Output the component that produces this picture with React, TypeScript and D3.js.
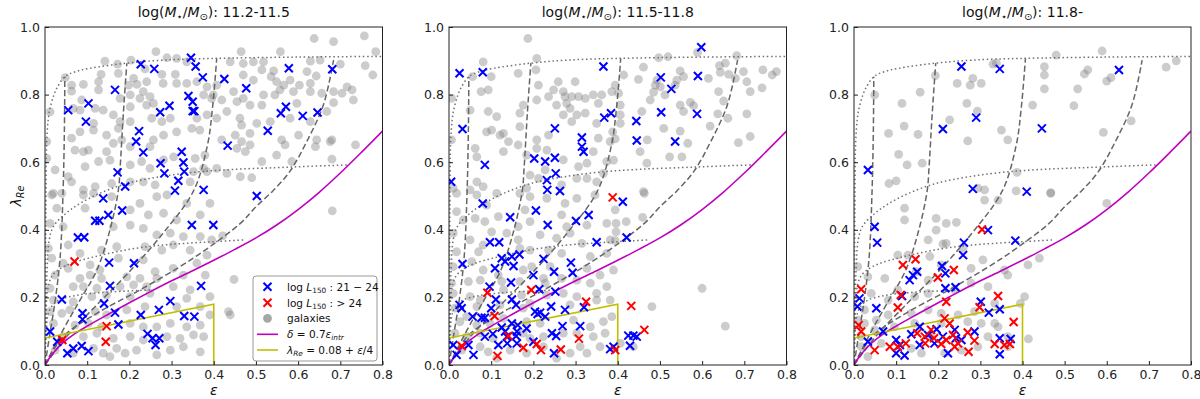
import React, { useRef, useEffect } from "react";
import * as d3 from "d3";

type Pt = [number, number];

const massBins = ["11.2-11.5", "11.5-11.8", "11.8-"];
const xTicks = [0, 0.1, 0.2, 0.3, 0.4, 0.5, 0.6, 0.7, 0.8];
const yTicks = [0, 0.2, 0.4, 0.6, 0.8, 1.0];

// grey galaxies, panel 1
const galaxies1: Pt[] = [
  [0.263,0.927],[0.289,0.909],[0.142,0.899],[0.172,0.89],[0.204,0.902],[0.312,0.907],[0.336,0.897],[0.237,0.876],[0.277,0.86],[0.309,0.86],
  [0.133,0.86],[0.174,0.863],[0.21,0.848],[0.048,0.85],[0.063,0.828],[0.091,0.83],[0.127,0.838],[0.063,0.81],[0.127,0.814],[0.198,0.828],
  [0.218,0.83],[0.241,0.838],[0.28,0.833],[0.312,0.833],[0.336,0.833],[0.36,0.838],[0.384,0.823],[0.376,0.799],[0.395,0.789],[0.233,0.809],
  [0.225,0.789],[0.249,0.794],[0.202,0.799],[0.178,0.789],[0.241,0.769],[0.257,0.774],[0.202,0.764],[0.162,0.74],[0.178,0.72],[0.202,0.72],
  [0.174,0.7],[0.138,0.754],[0.119,0.759],[0.083,0.754],[0.087,0.784],[0.067,0.759],[0.115,0.715],[0.115,0.695],[0.083,0.69],[0.063,0.671],
  [0.012,0.749],[0.004,0.661],[0.253,0.73],[0.277,0.72],[0.297,0.73],[0.36,0.73],[0.384,0.74],[0.348,0.7],[0.367,0.695],[0.312,0.69],
  [0.281,0.68],[0.257,0.666],[0.249,0.646],[0.202,0.646],[0.182,0.666],[0.162,0.656],[0.146,0.68],[0.146,0.631],[0.091,0.631],[0.071,0.636],
  [0.103,0.636],[0.154,0.606],[0.127,0.602],[0.095,0.587],[0.055,0.557],[0.063,0.542],[0.024,0.577],[0.004,0.611],[0.202,0.592],[0.229,0.602],
  [0.249,0.582],[0.281,0.607],[0.305,0.616],[0.356,0.611],[0.379,0.621],[0.352,0.572],[0.384,0.572],[0.344,0.542],[0.261,0.533],[0.233,0.542],
  [0.202,0.542],[0.158,0.537],[0.119,0.528],[0.091,0.518],[0.02,0.508],[0.376,0.582],
  [0.638,0.966],[0.684,0.957],[0.757,0.974],[0.465,0.927],[0.784,0.927],[0.558,0.927],[0.652,0.902],[0.629,0.899],[0.7,0.89],[0.759,0.886],
  [0.777,0.858],[0.439,0.897],[0.47,0.892],[0.494,0.897],[0.518,0.897],[0.514,0.873],[0.542,0.87],[0.536,0.853],[0.581,0.843],[0.629,0.833],
  [0.643,0.855],[0.621,0.868],[0.603,0.828],[0.589,0.809],[0.566,0.828],[0.549,0.838],[0.494,0.843],[0.47,0.858],[0.447,0.809],[0.407,0.828],
  [0.399,0.799],[0.455,0.779],[0.486,0.769],[0.514,0.769],[0.47,0.789],[0.518,0.799],[0.545,0.799],[0.557,0.814],[0.629,0.809],[0.656,0.804],
  [0.684,0.809],[0.716,0.823],[0.728,0.814],[0.704,0.804],[0.731,0.784],[0.684,0.776],[0.597,0.774],[0.581,0.73],[0.629,0.72],[0.668,0.75],
  [0.431,0.75],[0.419,0.784],[0.407,0.73],[0.462,0.73],[0.466,0.71],[0.502,0.715],[0.534,0.72],[0.486,0.685],[0.451,0.68],[0.419,0.666],
  [0.466,0.661],[0.455,0.641],[0.475,0.631],[0.486,0.651],[0.561,0.666],[0.569,0.651],[0.601,0.68],[0.644,0.666],[0.676,0.661],[0.641,0.646],
  [0.68,0.666],[0.736,0.651],[0.549,0.621],[0.514,0.602],[0.585,0.602],[0.68,0.609],[0.463,0.557],[0.49,0.554],[0.431,0.567],[0.407,0.582],
  [0.681,0.456],[0.421,0.382],[0.448,0.253],[0.435,0.158],[0.439,0.148],
  [0.016,0.503],[0.04,0.508],[0.091,0.503],[0.115,0.508],[0.158,0.498],[0.225,0.478],[0.265,0.498],[0.289,0.503],[0.336,0.478],[0.391,0.478],
  [0.028,0.464],[0.095,0.464],[0.202,0.459],[0.245,0.444],[0.281,0.449],[0.312,0.429],[0.368,0.444],[0.012,0.419],[0.043,0.409],[0.162,0.409],
  [0.202,0.414],[0.233,0.404],[0.265,0.385],[0.297,0.39],[0.328,0.38],[0.368,0.38],[0.395,0.37],[0.008,0.345],[0.055,0.355],[0.083,0.33],
  [0.134,0.34],[0.17,0.35],[0.237,0.35],[0.277,0.34],[0.304,0.355],[0.344,0.34],[0.384,0.325],[0.016,0.316],[0.043,0.301],[0.055,0.286],
  [0.107,0.296],[0.13,0.281],[0.174,0.316],[0.233,0.311],[0.261,0.276],[0.304,0.286],[0.36,0.301],[0.024,0.266],[0.083,0.256],[0.107,0.266],
  [0.134,0.256],[0.194,0.261],[0.225,0.256],[0.265,0.256],[0.328,0.266],[0.38,0.266],[0.012,0.227],[0.067,0.232],[0.091,0.232],[0.123,0.227],
  [0.178,0.232],[0.21,0.237],[0.241,0.232],[0.304,0.232],[0.344,0.222],[0.02,0.192],[0.067,0.187],[0.111,0.202],[0.146,0.207],[0.202,0.202],
  [0.249,0.212],[0.336,0.197],[0.391,0.202],[0.012,0.158],[0.04,0.153],[0.059,0.163],[0.119,0.158],[0.146,0.148],[0.194,0.163],[0.237,0.173],
  [0.312,0.173],[0.368,0.173],[0.391,0.148],[0.02,0.123],[0.071,0.118],[0.103,0.123],[0.134,0.113],[0.202,0.123],[0.233,0.113],[0.265,0.113],
  [0.297,0.123],[0.336,0.113],[0.368,0.118],[0.043,0.084],[0.091,0.084],[0.123,0.094],[0.162,0.079],[0.202,0.084],[0.233,0.074],[0.289,0.084],
  [0.32,0.079],[0.352,0.089],[0.376,0.084],[0.024,0.044],[0.067,0.035],[0.115,0.049],[0.138,0.035],[0.17,0.049],[0.19,0.035],[0.217,0.044],
  [0.265,0.03],[0.297,0.044],[0.328,0.054],[0.368,0.039],[0.154,0.025],
];

// log L150 21-24 (blue), panel 1
const radioLow1: Pt[] = [
  [0.055,0.754],[0.103,0.774],[0.097,0.72],[0.166,0.814],[0.227,0.89],[0.259,0.876],[0.346,0.909],[0.357,0.883],[0.374,0.851],[0.34,0.796],
  [0.35,0.779],[0.35,0.751],[0.354,0.751],[0.295,0.767],[0.273,0.748],[0.223,0.692],[0.216,0.661],[0.233,0.629],[0.172,0.57],[0.19,0.528],
  [0.274,0.597],[0.283,0.567],[0.324,0.631],[0.328,0.599],[0.33,0.572],[0.316,0.545],[0.308,0.516],[0.376,0.518],
  [0.425,0.846],[0.477,0.819],[0.578,0.878],[0.681,0.875],[0.571,0.764],[0.559,0.745],[0.611,0.737],[0.646,0.747],[0.528,0.693],[0.433,0.649],
  [0.502,0.5],
  [0.138,0.493],[0.183,0.457],[0.15,0.444],[0.119,0.427],[0.129,0.427],[0.348,0.414],[0.399,0.414],[0.078,0.377],[0.093,0.378],[0.152,0.303],
  [0.211,0.301],[0.154,0.234],[0.04,0.194],[0.14,0.182],[0.37,0.234],[0.297,0.189],[0.089,0.153],[0.089,0.135],[0.166,0.155],[0.227,0.148],
  [0.27,0.163],[0.33,0.145],[0.354,0.143],[0.174,0.12],[0.012,0.099],[0.029,0.069],[0.053,0.035],[0.067,0.049],[0.087,0.056],[0.103,0.041],
  [0.243,0.092],[0.255,0.079],[0.271,0.079],[0.262,0.059],
];

// log L150 > 24 (red), panel 1
const radioHigh1: Pt[] = [[0.07,0.306],[0.146,0.115],[0.144,0.069],[0.041,0.074]];

const galaxies2: Pt[] = [
  [0.187,0.966],[0.081,0.897],[0.208,0.907],[0.056,0.853],[0.1,0.853],[0.164,0.863],[0.206,0.873],[0.076,0.809],[0.093,0.814],[0.212,0.828],
  [0.259,0.838],[0.006,0.789],[0.236,0.794],[0.208,0.784],[0.248,0.814],[0.271,0.809],[0.299,0.838],[0.275,0.794],[0.291,0.794],[0.307,0.794],
  [0.323,0.789],[0.342,0.799],[0.362,0.799],[0.386,0.809],[0.176,0.769],[0.255,0.769],[0.279,0.774],[0.287,0.759],[0.271,0.74],[0.303,0.74],
  [0.323,0.745],[0.354,0.774],[0.05,0.754],[0.093,0.75],[0.113,0.735],[0.168,0.745],[0.291,0.72],[0.35,0.715],[0.089,0.69],[0.101,0.695],
  [0.121,0.68],[0.129,0.685],[0.141,0.661],[0.164,0.651],[0.168,0.705],[0.208,0.666],[0.236,0.68],[0.208,0.641],[0.062,0.641],[0.129,0.631],
  [0.066,0.616],[0.184,0.621],[0.232,0.636],[0.271,0.607],[0.307,0.587],[0.327,0.597],[0.342,0.631],[0.354,0.671],[0.382,0.661],[0.388,0.69],
  [0.006,0.666],[0.374,0.602],[0.192,0.562],[0.212,0.552],[0.228,0.577],[0.267,0.533],[0.303,0.552],[0.327,0.552],[0.35,0.542],[0.366,0.567],
  [0.066,0.542],[0.05,0.518],[0.081,0.528],[0.184,0.523],[0.01,0.523],
  [0.497,0.909],[0.519,0.912],[0.589,0.925],[0.682,0.915],[0.461,0.881],[0.641,0.886],[0.655,0.893],[0.643,0.866],[0.663,0.86],[0.679,0.848],
  [0.698,0.868],[0.744,0.873],[0.766,0.858],[0.776,0.868],[0.706,0.838],[0.742,0.82],[0.714,0.809],[0.615,0.848],[0.548,0.87],[0.556,0.853],
  [0.54,0.843],[0.536,0.828],[0.493,0.843],[0.449,0.845],[0.489,0.828],[0.501,0.823],[0.512,0.799],[0.485,0.807],[0.414,0.858],[0.394,0.828],
  [0.402,0.804],[0.406,0.769],[0.406,0.715],[0.477,0.784],[0.548,0.769],[0.572,0.777],[0.58,0.767],[0.556,0.75],[0.639,0.809],[0.651,0.781],
  [0.637,0.743],[0.661,0.73],[0.619,0.707],[0.706,0.743],[0.457,0.75],[0.406,0.74],[0.509,0.7],[0.548,0.692],[0.47,0.666],[0.453,0.631],
  [0.469,0.597],[0.523,0.616],[0.552,0.616],[0.566,0.656],[0.686,0.658],[0.714,0.676],[0.394,0.669],[0.461,0.513],[0.39,0.606],
  [0.018,0.508],[0.066,0.503],[0.113,0.508],[0.089,0.473],[0.168,0.508],[0.192,0.498],[0.232,0.493],[0.275,0.478],[0.303,0.493],[0.346,0.503],
  [0.018,0.454],[0.034,0.429],[0.062,0.434],[0.085,0.424],[0.117,0.439],[0.18,0.459],[0.192,0.424],[0.164,0.409],[0.267,0.444],[0.279,0.409],
  [0.327,0.414],[0.374,0.419],[0.01,0.39],[0.05,0.37],[0.101,0.394],[0.137,0.39],[0.164,0.37],[0.216,0.385],[0.255,0.375],[0.287,0.39],
  [0.315,0.36],[0.382,0.37],[0.018,0.335],[0.07,0.335],[0.081,0.355],[0.168,0.345],[0.192,0.34],[0.236,0.34],[0.267,0.33],[0.335,0.321],
  [0.374,0.33],[0.01,0.291],[0.054,0.306],[0.081,0.281],[0.117,0.266],[0.176,0.281],[0.196,0.291],[0.24,0.291],[0.267,0.256],[0.327,0.286],
  [0.358,0.266],[0.39,0.281],[0.006,0.242],[0.046,0.247],[0.074,0.251],[0.125,0.247],[0.168,0.247],[0.224,0.256],[0.228,0.242],[0.303,0.251],
  [0.335,0.242],[0.374,0.232],[0.01,0.212],[0.05,0.202],[0.074,0.192],[0.129,0.222],[0.172,0.207],[0.232,0.207],[0.271,0.212],[0.303,0.202],
  [0.35,0.212],[0.382,0.192],[0.014,0.168],[0.066,0.173],[0.121,0.178],[0.176,0.168],[0.192,0.182],[0.287,0.178],[0.35,0.192],[0.026,0.128],
  [0.042,0.143],[0.066,0.118],[0.097,0.123],[0.129,0.138],[0.184,0.128],[0.216,0.123],[0.295,0.133],[0.335,0.113],[0.366,0.128],[0.014,0.094],
  [0.042,0.084],[0.074,0.094],[0.105,0.079],[0.176,0.094],[0.192,0.079],[0.224,0.084],[0.271,0.094],[0.303,0.094],[0.342,0.084],[0.37,0.094],
  [0.03,0.044],[0.074,0.054],[0.093,0.039],[0.145,0.044],[0.184,0.035],[0.224,0.054],[0.287,0.035],[0.311,0.054],[0.327,0.035],[0.358,0.054],
  [0.113,0.02],[0.255,0.02],
  [0.463,0.508],[0.394,0.459],[0.42,0.424],[0.459,0.437],[0.396,0.419],[0.396,0.394],[0.394,0.368],[0.6,0.227],[0.481,0.173],[0.655,0.115],
  [0.386,0.143],[0.406,0.064],[0.437,0.054],
];

const radioLow2: Pt[] = [
  [0.025,0.863],[0.08,0.866],[0.032,0.698],[0.085,0.592],[0.005,0.542],[0.251,0.7],[0.315,0.673],[0.315,0.646],[0.319,0.631],[0.366,0.883],
  [0.368,0.732],[0.384,0.745],[0.202,0.611],[0.228,0.602],[0.251,0.613],[0.253,0.567],[0.232,0.547],[0.233,0.518],[0.263,0.515],
  [0.598,0.94],[0.502,0.851],[0.59,0.855],[0.527,0.817],[0.444,0.722],[0.503,0.748],[0.588,0.743],[0.445,0.664],[0.536,0.661],
  [0.08,0.478],[0.206,0.457],[0.145,0.437],[0.234,0.414],[0.301,0.426],[0.331,0.444],[0.097,0.363],[0.119,0.363],[0.35,0.363],[0.032,0.299],
  [0.125,0.316],[0.109,0.286],[0.133,0.306],[0.149,0.321],[0.167,0.327],[0.153,0.293],[0.224,0.314],[0.289,0.303],[0.293,0.273],[0.249,0.276],
  [0.2,0.266],[0.147,0.244],[0.096,0.232],[0.214,0.224],[0.252,0.217],[0.149,0.194],[0.025,0.178],[0.03,0.168],[0.111,0.194],[0.159,0.178],
  [0.242,0.173],[0.275,0.163],[0.32,0.171],[0.056,0.143],[0.077,0.14],[0.085,0.14],[0.1,0.168],[0.204,0.158],[0.21,0.151],[0.216,0.155],
  [0.228,0.143],[0.149,0.123],[0.163,0.118],[0.184,0.108],[0.161,0.099],[0.125,0.111],[0.133,0.099],[0.085,0.084],[0.104,0.092],[0.137,0.084],
  [0.159,0.086],[0.117,0.059],[0.138,0.064],[0.161,0.064],[0.2,0.069],[0.244,0.094],[0.254,0.086],[0.269,0.115],[0.311,0.115],[0.249,0.035],
  [0.046,0.059],[0.01,0.059],[0.018,0.03],[0.058,0.03],[0.382,0.047],
  [0.412,0.483],[0.421,0.377],[0.425,0.087],[0.437,0.087],[0.445,0.084],[0.429,0.057],[0.39,0.054],
];

const radioHigh2: Pt[] = [
  [0.091,0.214],[0.195,0.222],[0.108,0.145],[0.325,0.187],[0.141,0.086],[0.03,0.056],[0.176,0.051],[0.208,0.062],[0.218,0.044],[0.265,0.046],
  [0.308,0.078],[0.115,0.027],[0.388,0.496],[0.432,0.175],[0.463,0.104],[0.394,0.044],
];

const galaxies3: Pt[] = [
  [0.049,0.799],[0.083,0.537],[0.1,0.545],[0.082,0.685],[0.119,0.707],[0.114,0.774],[0.157,0.807],[0.152,0.682],[0.106,0.623],[0.126,0.592],
  [0.162,0.597],[0.193,0.856],[0.227,0.725],[0.245,0.833],[0.276,0.828],[0.282,0.848],[0.302,0.833],[0.268,0.774],[0.293,0.751],[0.27,0.663],
  [0.33,0.89],[0.338,0.893],[0.35,0.695],[0.365,0.666],[0.294,0.523],
  [0.48,0.917],[0.589,0.929],[0.452,0.883],[0.452,0.858],[0.452,0.817],[0.555,0.873],[0.547,0.861],[0.61,0.85],[0.6,0.84],[0.531,0.817],
  [0.424,0.769],[0.522,0.767],[0.741,0.881],[0.765,0.9],[0.658,0.722],[0.592,0.688],[0.387,0.57],[0.385,0.515],[0.467,0.51],
  [0.12,0.464],[0.12,0.429],[0.195,0.434],[0.219,0.419],[0.243,0.422],[0.195,0.399],[0.211,0.358],[0.176,0.37],[0.31,0.488],[0.31,0.518],
  [0.342,0.488],[0.009,0.291],[0.033,0.261],[0.041,0.212],[0.073,0.256],[0.104,0.325],[0.128,0.325],[0.18,0.321],[0.219,0.36],[0.148,0.276],
  [0.176,0.251],[0.207,0.296],[0.259,0.345],[0.278,0.286],[0.306,0.311],[0.357,0.281],[0.318,0.232],[0.278,0.242],[0.239,0.222],[0.176,0.212],
  [0.144,0.202],[0.104,0.222],[0.081,0.192],[0.025,0.163],[0.009,0.133],[0.025,0.123],[0.053,0.133],[0.081,0.148],[0.136,0.153],[0.176,0.163],
  [0.207,0.153],[0.247,0.148],[0.286,0.158],[0.334,0.182],[0.27,0.128],[0.207,0.123],[0.144,0.123],[0.096,0.113],[0.049,0.104],[0.017,0.084],
  [0.017,0.054],[0.033,0.025],[0.065,0.064],[0.136,0.049],[0.16,0.035],[0.183,0.084],[0.215,0.035],[0.255,0.044],[0.294,0.054],[0.318,0.084],
  [0.342,0.113],[0.365,0.084],[0.302,0.123],[0.334,0.123],
  [0.467,0.508],[0.6,0.478],[0.44,0.316],[0.413,0.296],[0.365,0.266],[0.405,0.202],[0.395,0.182],[0.414,0.077],[0.365,0.054],
];

const radioLow3: Pt[] = [
  [0.255,0.883],[0.346,0.876],[0.29,0.732],[0.211,0.698],[0.033,0.577],[0.282,0.521],[0.629,0.873],[0.446,0.7],[0.41,0.513],
  [0.049,0.409],[0.055,0.362],[0.318,0.399],[0.259,0.325],[0.261,0.362],[0.383,0.368],[0.209,0.293],[0.217,0.271],[0.15,0.276],[0.132,0.251],
  [0.14,0.266],[0.217,0.227],[0.241,0.23],[0.114,0.204],[0.013,0.197],[0.008,0.173],[0.053,0.168],[0.301,0.187],[0.32,0.155],[0.346,0.165],
  [0.069,0.099],[0.033,0.069],[0.1,0.074],[0.1,0.035],[0.12,0.028],[0.109,0.059],[0.136,0.091],[0.156,0.113],[0.156,0.059],[0.176,0.089],
  [0.196,0.106],[0.191,0.064],[0.211,0.084],[0.223,0.035],[0.239,0.104],[0.242,0.079],[0.255,0.074],[0.286,0.099],[0.346,0.079],[0.346,0.032],
  [0.372,0.077],
];

const radioHigh3: Pt[] = [
  [0.017,0.224],[0.011,0.118],[0.017,0.099],[0.049,0.044],[0.116,0.296],[0.111,0.207],[0.104,0.17],[0.146,0.313],[0.199,0.259],[0.237,0.281],
  [0.304,0.401],[0.219,0.187],[0.215,0.138],[0.227,0.123],[0.298,0.171],[0.342,0.204],[0.085,0.054],[0.104,0.054],[0.123,0.064],[0.15,0.094],
  [0.168,0.084],[0.169,0.064],[0.183,0.104],[0.19,0.079],[0.207,0.062],[0.219,0.074],[0.235,0.089],[0.247,0.064],[0.239,0.054],[0.27,0.096],
  [0.286,0.072],[0.272,0.039],[0.334,0.062],[0.357,0.059],[0.379,0.127],[0.37,0.062],
];

// delta = 0.7 eps_intr edge-on line
const edgeOnEps = [0, 0.01, 0.02, 0.043, 0.07, 0.1, 0.15, 0.2, 0.25, 0.3, 0.35, 0.4, 0.45, 0.5, 0.55, 0.6, 0.65, 0.7, 0.75, 0.8];
const edgeOnLam = [0, 0.02, 0.036, 0.066, 0.092, 0.115, 0.15, 0.184, 0.217, 0.249, 0.279, 0.31, 0.342, 0.376, 0.415, 0.46, 0.511, 0.568, 0.629, 0.692];

// lambda = 0.08 + eps/4 slow rotator box
const slowEps = [0, 0.4, 0.4];
const slowLam = [0.08, 0.18, 0];

// dotted: constant intrinsic ellipticity
const dottedEps = [
  [0, 0.001, 0.002, 0.004, 0.008, 0.012, 0.02, 0.028, 0.047, 0.07, 0.107, 0.194, 0.28, 0.395, 0.6, 0.8],
  [0, 0.002, 0.005, 0.01, 0.02, 0.05, 0.083, 0.13, 0.194, 0.273, 0.36, 0.45, 0.55, 0.63, 0.716],
  [0, 0.002, 0.006, 0.015, 0.03, 0.06, 0.11, 0.17, 0.23, 0.3, 0.4, 0.47],
  [0, 0.003, 0.01, 0.03, 0.07, 0.12, 0.18, 0.25],
];
const dottedLam = [
  [0, 0.25, 0.45, 0.66, 0.73, 0.76, 0.795, 0.819, 0.853, 0.867, 0.878, 0.893, 0.902, 0.907, 0.911, 0.913],
  [0, 0.15, 0.28, 0.37, 0.41, 0.449, 0.478, 0.508, 0.537, 0.557, 0.571, 0.579, 0.584, 0.588, 0.592],
  [0, 0.12, 0.22, 0.26, 0.28, 0.3, 0.318, 0.335, 0.348, 0.357, 0.365, 0.37],
  [0, 0.1, 0.16, 0.19, 0.205, 0.213, 0.218, 0.222],
];

// dashed: constant inclination
const dashedEps = [
  [0, 0.01, 0.024, 0.036, 0.043, 0.046, 0.047],
  [0, 0.043, 0.083, 0.123, 0.154, 0.174, 0.178, 0.186, 0.194],
  [0, 0.051, 0.123, 0.2, 0.28, 0.352, 0.385, 0.397, 0.407],
  [0, 0.043, 0.123, 0.225, 0.32, 0.391, 0.463, 0.5, 0.54, 0.58, 0.62, 0.66, 0.684],
];
const dashedLam = [
  [0, 0.08, 0.19, 0.32, 0.52, 0.7, 0.853],
  [0, 0.104, 0.192, 0.281, 0.4, 0.518, 0.582, 0.75, 0.893],
  [0, 0.084, 0.178, 0.276, 0.39, 0.515, 0.65, 0.76, 0.907],
  [0, 0.084, 0.153, 0.222, 0.291, 0.35, 0.419, 0.468, 0.515, 0.572, 0.66, 0.77, 0.902],
];

const galaxies = [galaxies1, galaxies2, galaxies3];
const radioLow = [radioLow1, radioLow2, radioLow3];
const radioHigh = [radioHigh1, radioHigh2, radioHigh3];

const xRanges: [number, number][] = [[45, 382.5], [449, 786.5], [854, 1191]];
const yRange: [number, number] = [365, 27];
const FONT = "DejaVu Sans, sans-serif";

type Part = { t: string; it?: boolean; sub?: boolean };

function addParts(text: any, parts: Part[], size: number) {
  let inSub = false;
  parts.forEach((p) => {
    const ts = text.append("tspan").text(p.t);
    if (p.it) ts.attr("font-style", "italic");
    if (p.sub) ts.attr("font-size", size * 0.7);
    if (p.sub && !inSub) ts.attr("dy", size * 0.22);
    if (!p.sub && inSub) ts.attr("dy", -size * 0.22);
    inSub = !!p.sub;
  });
}

export default function App() {
  const svgRef = useRef<SVGSVGElement>(null);

  useEffect(() => {
    const svg = d3.select(svgRef.current);
    svg.selectAll("*").remove();

    xRanges.forEach((xr, i) => {
      const x = d3.scaleLinear().domain([0, 0.8]).range(xr);
      const y = d3.scaleLinear().domain([0, 1]).range(yRange);
      const g = svg.append("g");

      const clipId = "clip" + i;
      svg.append("clipPath").attr("id", clipId)
        .append("rect")
        .attr("x", xr[0]).attr("y", yRange[1])
        .attr("width", xr[1] - xr[0]).attr("height", yRange[0] - yRange[1]);

      const plot = g.append("g").attr("clip-path", `url(#${clipId})`);

      // galaxies
      plot.append("g")
        .selectAll("circle")
        .data(galaxies[i])
        .join("circle")
        .attr("cx", (d) => x(d[0]))
        .attr("cy", (d) => y(d[1]))
        .attr("r", 4.4)
        .attr("fill", "#808080")
        .attr("fill-opacity", 0.4);

      const line = d3.line<[number, number]>()
        .x((d) => x(d[0]))
        .y((d) => y(d[1]))
        .curve(d3.curveCatmullRom.alpha(0.5));

      dottedEps.forEach((eps, k) => {
        plot.append("path")
          .datum(eps.map((e, j) => [e, dottedLam[k][j]] as [number, number]))
          .attr("fill", "none")
          .attr("stroke", "#707070")
          .attr("stroke-width", 1.5)
          .attr("stroke-dasharray", "1.5,2.7")
          .attr("d", line);
      });
      dashedEps.forEach((eps, k) => {
        plot.append("path")
          .datum(eps.map((e, j) => [e, dashedLam[k][j]] as [number, number]))
          .attr("fill", "none")
          .attr("stroke", "#666666")
          .attr("stroke-width", 1.5)
          .attr("stroke-dasharray", "6,3")
          .attr("d", line);
      });

      plot.append("path")
        .datum(edgeOnEps.map((e, j) => [e, edgeOnLam[j]] as [number, number]))
        .attr("fill", "none")
        .attr("stroke", "#bf00bf")
        .attr("stroke-width", 1.6)
        .attr("d", line);

      plot.append("path")
        .datum(slowEps.map((e, j) => [e, slowLam[j]] as [number, number]))
        .attr("fill", "none")
        .attr("stroke", "#bfbf00")
        .attr("stroke-width", 1.6)
        .attr("d", d3.line<[number, number]>().x((d) => x(d[0])).y((d) => y(d[1])));

      const cross = (d: Pt) => {
        const cx = x(d[0]), cy = y(d[1]), s = 4;
        return `M${cx - s},${cy - s}L${cx + s},${cy + s}M${cx - s},${cy + s}L${cx + s},${cy - s}`;
      };
      [[radioLow[i], "#0000ff"], [radioHigh[i], "#ff0000"]].forEach(([pts, col]: any) => {
        plot.append("g")
          .selectAll("path")
          .data(pts as Pt[])
          .join("path")
          .attr("d", cross)
          .attr("stroke", col)
          .attr("stroke-width", 2)
          .attr("fill", "none");
      });

      // axes, ticks inward
      const xAxis = g.append("g")
        .attr("transform", `translate(0,${yRange[0]})`)
        .call(d3.axisBottom(x).tickValues(xTicks).tickFormat(d3.format(".1f")).tickSizeInner(-4).tickSizeOuter(0).tickPadding(5));
      const yAxis = g.append("g")
        .attr("transform", `translate(${xr[0]},0)`)
        .call(d3.axisLeft(y).tickValues(yTicks).tickFormat(d3.format(".1f")).tickSizeInner(-4).tickSizeOuter(0).tickPadding(5));
      [xAxis, yAxis].forEach((a) => {
        a.select(".domain").remove();
        a.selectAll("line").attr("stroke", "#222");
        a.selectAll("text").attr("font-family", FONT).attr("font-size", 12.5).attr("fill", "#222");
      });

      g.append("rect")
        .attr("x", xr[0]).attr("y", yRange[1])
        .attr("width", xr[1] - xr[0]).attr("height", yRange[0] - yRange[1])
        .attr("fill", "none").attr("stroke", "#222").attr("stroke-width", 1);

      const cx = (xr[0] + xr[1]) / 2;
      const title = g.append("text")
        .attr("x", cx).attr("y", 17)
        .attr("text-anchor", "middle")
        .attr("font-family", FONT).attr("font-size", 14).attr("fill", "#111");
      addParts(title, [
        { t: "log(" }, { t: "M", it: true }, { t: "⋆", sub: true }, { t: "/" },
        { t: "M", it: true }, { t: "⊙", sub: true }, { t: "): " + massBins[i] },
      ], 14);

      g.append("text")
        .attr("x", cx).attr("y", 395)
        .attr("text-anchor", "middle")
        .attr("font-family", FONT).attr("font-size", 14).attr("font-style", "italic").attr("fill", "#111")
        .text("ε");

      if (i === 0) {
        const yl = g.append("text")
          .attr("transform", "translate(21,196) rotate(-90)")
          .attr("text-anchor", "middle")
          .attr("font-family", FONT).attr("font-size", 14).attr("fill", "#111");
        addParts(yl, [{ t: "λ", it: true }, { t: "Re", it: true, sub: true }], 14);

        // legend
        const lg = g.append("g");
        lg.append("rect")
          .attr("x", 253).attr("y", 276).attr("width", 124).attr("height", 85)
          .attr("rx", 3).attr("fill", "white").attr("fill-opacity", 0.85)
          .attr("stroke", "#999").attr("stroke-width", 1);
        const rows = [286.7, 302.7, 318.3, 334.3, 350];
        const mk = (cx0: number, cy0: number, col: string) => {
          const s = 4;
          lg.append("path")
            .attr("d", `M${cx0 - s},${cy0 - s}L${cx0 + s},${cy0 + s}M${cx0 - s},${cy0 + s}L${cx0 + s},${cy0 - s}`)
            .attr("stroke", col).attr("stroke-width", 2).attr("fill", "none");
        };
        mk(267.5, rows[0], "#0000ff");
        mk(267.5, rows[1], "#ff0000");
        lg.append("circle").attr("cx", 267.5).attr("cy", rows[2]).attr("r", 4.4)
          .attr("fill", "#808080").attr("fill-opacity", 0.7);
        lg.append("line").attr("x1", 257).attr("x2", 278).attr("y1", rows[3]).attr("y2", rows[3])
          .attr("stroke", "#bf00bf").attr("stroke-width", 1.6);
        lg.append("line").attr("x1", 257).attr("x2", 278).attr("y1", rows[4]).attr("y2", rows[4])
          .attr("stroke", "#bfbf00").attr("stroke-width", 1.6);
        const labels: Part[][] = [
          [{ t: "log " }, { t: "L", it: true }, { t: "150", sub: true }, { t: " : 21 − 24" }],
          [{ t: "log " }, { t: "L", it: true }, { t: "150", sub: true }, { t: " : > 24" }],
          [{ t: "galaxies" }],
          [{ t: "δ", it: true }, { t: " = 0.7" }, { t: "ε", it: true }, { t: "intr", it: true, sub: true }],
          [{ t: "λ", it: true }, { t: "Re", it: true, sub: true }, { t: " = 0.08 + " }, { t: "ε", it: true }, { t: "/4" }],
        ];
        labels.forEach((parts, k) => {
          const t = lg.append("text")
            .attr("x", 287).attr("y", rows[k] + 3.8)
            .attr("font-family", FONT).attr("font-size", 10.5).attr("fill", "#111");
          addParts(t, parts, 10.5);
        });
      }
    });
  }, []);

  return (
    <svg
      ref={svgRef}
      width={1200}
      height={399}
      style={{ position: "absolute", left: 0, top: 0, background: "white" }}
    />
  );
}
